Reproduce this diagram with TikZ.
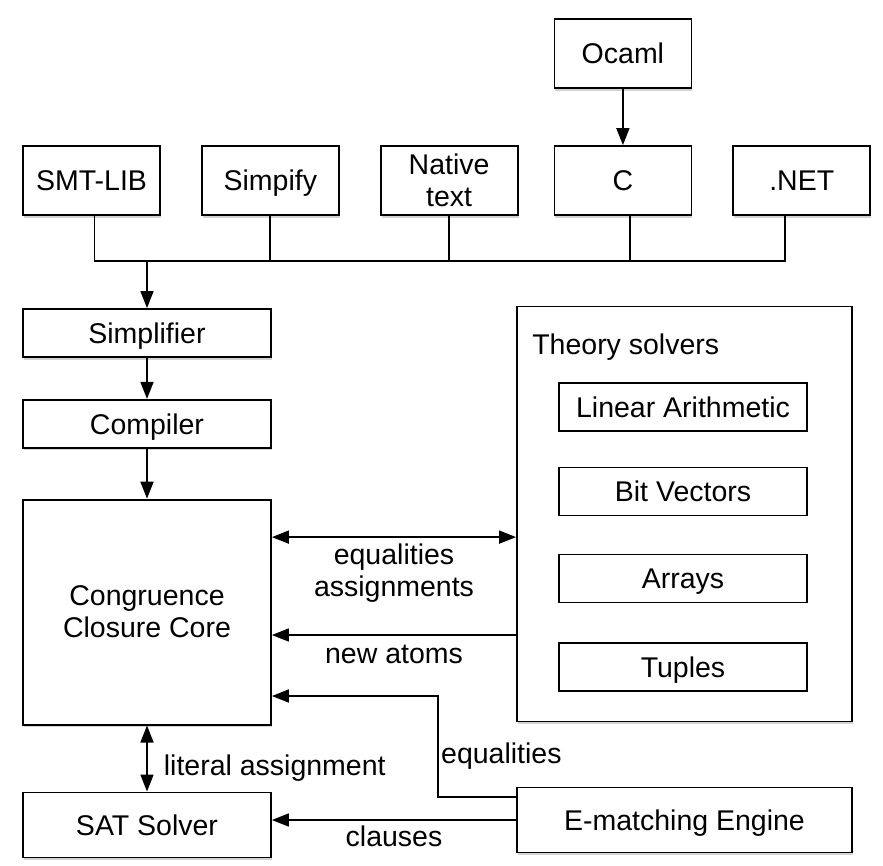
\documentclass[tikz,border=0pt]{standalone}
\usepackage{fontspec}
\setmainfont{Liberation Sans}
\setsansfont{Liberation Sans}
\usetikzlibrary{arrows.meta, positioning, shadows}

\begin{document}
\begin{tikzpicture}[x=1pt, y=1pt, node distance=40pt,
  every node/.style={font=\fontsize{28.5}{32}\selectfont, inner sep=2pt},
  box/.style={draw, line width=1.8pt, fill=white, align=center,
    drop shadow={shadow xshift=1pt, shadow yshift=-2.5pt, opacity=0.35}},
  oneline/.style={text height=20.4pt, text depth=0pt},
  frontend/.style={box, minimum width=137pt, minimum height=69pt},
  stage/.style={box, minimum width=248pt, minimum height=48pt},
  theorybox/.style={draw, line width=1.3pt, fill=white, oneline, minimum width=248pt, minimum height=48pt},
  lbl/.style={align=center},
  arr/.style={-{Triangle[length=17pt, width=13pt]}, line width=1.7pt},
  biarr/.style={{Triangle[length=17pt, width=13pt]}-{Triangle[length=17pt, width=13pt]}, line width=1.7pt}]
  \useasboundingbox (0,0) rectangle (883,-865);

  % input front ends
  \node[frontend, oneline] (smt) at (91.5,-180.5) {SMT-LIB};
  \node[frontend, oneline, right=of smt] (simpify) {Simpify};
  \node[frontend, right=of simpify] (native) {Native\\text};
  \node[frontend, oneline, right=35pt of native] (c) {C};
  \node[frontend, oneline, right=of c] (net) {.NET};
  \node[frontend, oneline, above=56pt of c] (ocaml) {Ocaml};

  % left column
  \node[stage, oneline] (simplifier) at (147,-333) {Simplifier};
  \node[stage, oneline, below=41pt of simplifier] (compiler) {Compiler};
  \node[stage, below=50pt of compiler, minimum height=225pt] (core) {Congruence\\Closure Core};
  \node[stage, oneline, below=66pt of core, minimum height=65pt] (sat) {SAT Solver};

  % theory solvers
  \node[box, minimum width=335pt, minimum height=415pt] (solvers) at (684.5,-514) {};
  \node[below right=28pt and 16pt of solvers.north west, inner sep=0pt] (solverstitle) {Theory solvers};
  \node[theorybox] (linear) at (683,-407) {Linear Arithmetic};
  \node[theorybox, below=35pt of linear] (bitvec) {Bit Vectors};
  \node[theorybox, below=38pt of bitvec] (arrays) {Arrays};
  \node[theorybox, below=39pt of arrays] (tuples) {Tuples};

  \node[box, oneline, minimum width=335pt, minimum height=65pt] (ematch) at (684.5,-820) {E-matching Engine};

  % bus
  \coordinate (bus) at (0,-261);
  \coordinate (smtdrop) at ([xshift=3pt]smt.south);
  \coordinate (cdrop) at ([xshift=7pt]c.south);
  \coordinate (netdrop) at ([xshift=-17pt]net.south);
  \draw[line width=1.7pt] (smtdrop) |- (bus -| netdrop) -- (netdrop);
  \foreach \n in {simpify.south, native.south, cdrop}
    \draw[line width=1.7pt] (\n) -- (\n |- bus);
  \draw[arr] (ocaml) -- (c);
  \draw[arr] (simplifier.north |- bus) -- (simplifier);
  \draw[arr] (simplifier) -- (compiler);
  \draw[arr] (compiler) -- (core);

  % core connections
  \draw[biarr] ([yshift=75pt]core.east) -- ([yshift=75pt]core.east -| solvers.west)
    node[lbl, midway, below=4pt] {equalities\\assignments};
  \draw[arr] ([yshift=-121pt]solvers.west) -- ([yshift=-121pt]solvers.west -| core.east)
    node[lbl, midway, below=7pt] {new atoms};
  \coordinate (eqturn) at (438,-696);
  \draw[arr] ([yshift=23pt]ematch.west) -| (eqturn) -- (eqturn -| core.east);
  \node[anchor=base west, inner sep=0pt] (eqtext) at (441,-763) {equalities};
  \draw[arr] (ematch.west) -- (ematch.west -| sat.east) node[lbl, midway, below=3pt] {clauses};
  \draw[biarr] (core) -- (sat) node[lbl, pos=0.64, right=14pt] {literal assignment};
\end{tikzpicture}
\end{document}
